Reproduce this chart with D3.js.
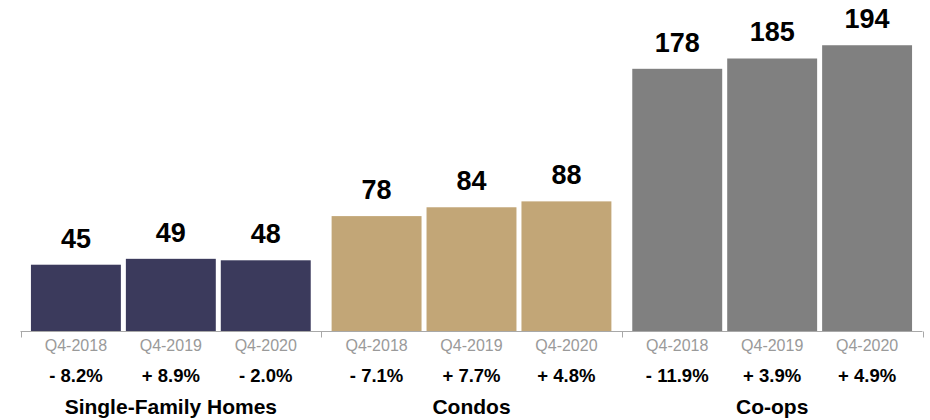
<!DOCTYPE html>
<html>
<head>
<meta charset="utf-8">
<script src="https://cdn.jsdelivr.net/npm/d3@7"></script>
<style>
  html, body { margin: 0; padding: 0; background: #fff; }
  svg { display: block; font-family: "Liberation Sans", Arial, Helvetica, sans-serif; }
</style>
</head>
<body>
<svg id="chart" width="930" height="420"></svg>
<script>
const categories = ["Single-Family Homes", "Condos", "Co-ops"];
const quarters = ["Q4-2018", "Q4-2019", "Q4-2020"];
const singleFamilyValues = [45, 49, 48];
const condoValues = [78, 84, 88];
const coopValues = [178, 185, 194];
const singleFamilyChanges = ["- 8.2%", "+ 8.9%", "- 2.0%"];
const condoChanges = ["- 7.1%", "+ 7.7%", "+ 4.8%"];
const coopChanges = ["- 11.9%", "+ 3.9%", "+ 4.9%"];
const colors = ["#3b3a5c", "#c2a677", "#808080"];

const valuesByCat = [singleFamilyValues, condoValues, coopValues];
const changesByCat = [singleFamilyChanges, condoChanges, coopChanges];

const rows = [];
categories.forEach((c, ci) => {
  quarters.forEach((q, qi) => {
    rows.push({ cat: c, ci, q, value: valuesByCat[ci][qi], change: changesByCat[ci][qi] });
  });
});

const svg = d3.select("#chart");
const baseline = 331;
const x0 = d3.scaleBand().domain(categories).range([20.5, 922.5]).padding(0);
const x1 = d3.scaleBand().domain(quarters).range([0, x0.bandwidth()])
  .paddingInner(5 / 95).paddingOuter(0.11);
const y = d3.scaleLinear().domain([0, 200]).range([baseline, baseline - 294.6]);

const g = svg.append("g");

// bars
g.selectAll("rect.bar").data(rows).join("rect")
  .attr("class", "bar")
  .attr("x", d => x0(d.cat) + x1(d.q))
  .attr("width", x1.bandwidth())
  .attr("y", d => y(d.value))
  .attr("height", d => y(0) - y(d.value))
  .attr("fill", d => colors[d.ci]);

// value labels
g.selectAll("text.val").data(rows).join("text")
  .attr("class", "val")
  .attr("x", d => x0(d.cat) + x1(d.q) + x1.bandwidth() / 2)
  .attr("y", d => y(d.value) - 17)
  .attr("text-anchor", "middle")
  .attr("font-size", 27)
  .attr("font-weight", "bold")
  .attr("fill", "#000")
  .text(d => d.value);

// axis line with group-boundary ticks
const axisY = baseline + 0.5;
g.append("line")
  .attr("x1", x0.range()[0]).attr("x2", x0.range()[1])
  .attr("y1", axisY).attr("y2", axisY)
  .attr("stroke", "#a8a8a8").attr("stroke-width", 1);
const bounds = categories.map(c => x0(c)).concat([x0.range()[1]]);
g.selectAll("line.tick").data(bounds).join("line")
  .attr("class", "tick")
  .attr("x1", d => Math.round(d) + 0.5).attr("x2", d => Math.round(d) + 0.5)
  .attr("y1", axisY).attr("y2", axisY + 6)
  .attr("stroke", "#a8a8a8").attr("stroke-width", 1);

// quarter labels
g.selectAll("text.q").data(rows).join("text")
  .attr("class", "q")
  .attr("x", d => x0(d.cat) + x1(d.q) + x1.bandwidth() / 2)
  .attr("y", 351)
  .attr("text-anchor", "middle")
  .attr("font-size", 16)
  .attr("fill", "#9a9a9a")
  .text(d => d.q);

// change labels
g.selectAll("text.chg").data(rows).join("text")
  .attr("class", "chg")
  .attr("x", d => x0(d.cat) + x1(d.q) + x1.bandwidth() / 2)
  .attr("y", 382)
  .attr("text-anchor", "middle")
  .attr("font-size", 18.5)
  .attr("font-weight", "bold")
  .attr("fill", "#000")
  .text(d => d.change);

// category labels
g.selectAll("text.cat").data(categories).join("text")
  .attr("class", "cat")
  .attr("x", d => x0(d) + x0.bandwidth() / 2)
  .attr("y", 414)
  .attr("text-anchor", "middle")
  .attr("font-size", 21)
  .attr("font-weight", "bold")
  .attr("fill", "#000")
  .text(d => d);
</script>
</body>
</html>
